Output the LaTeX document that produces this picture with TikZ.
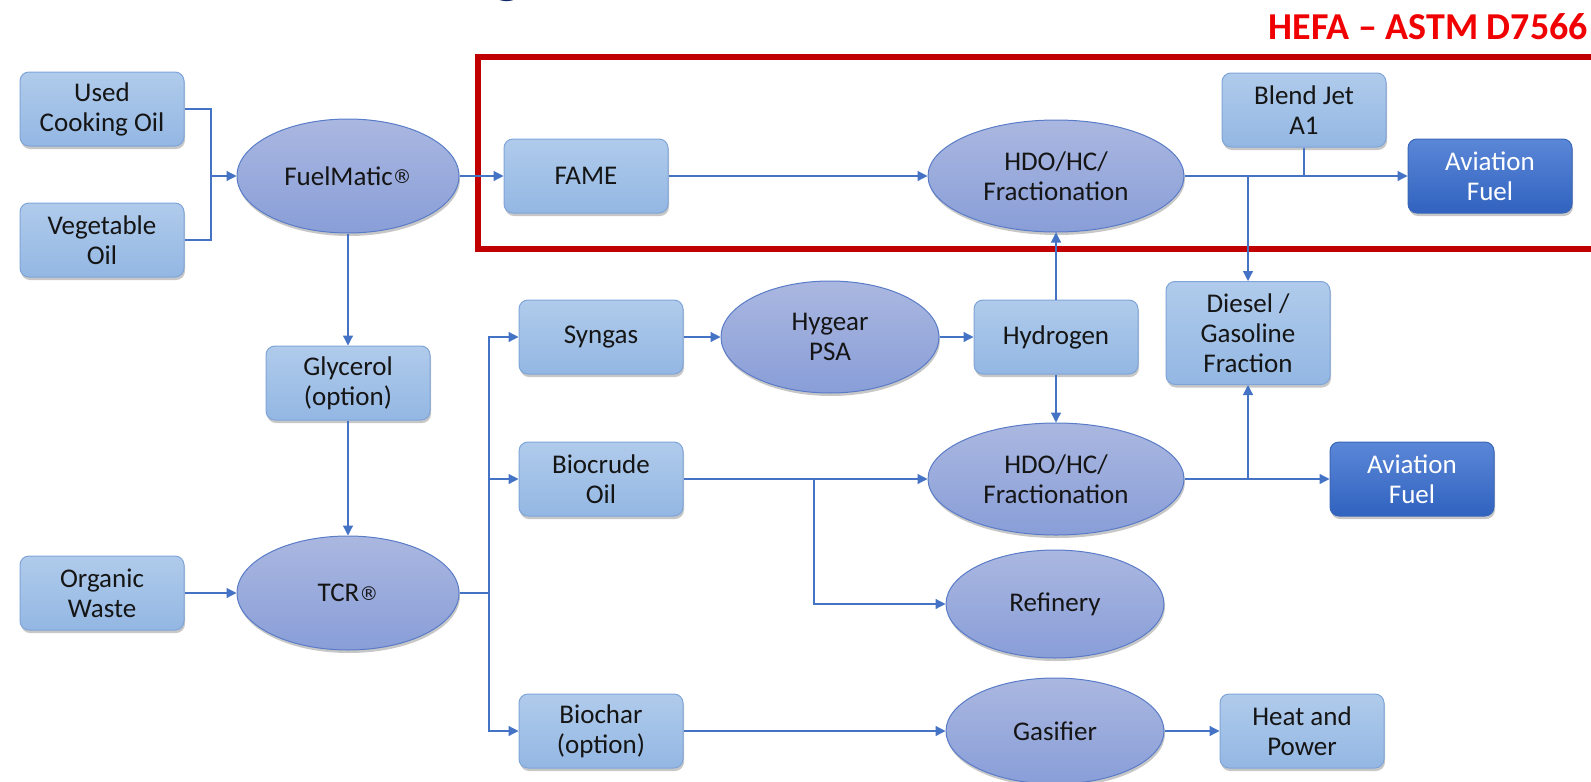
\documentclass[tikz,border=0pt]{standalone}
\usepackage{fontspec}
\setmainfont{Carlito}
\newfontfamily\symfont{DejaVu Sans}
\usetikzlibrary{shapes.geometric,shadows,arrows.meta}
\definecolor{boxtop}{HTML}{B0CBEB}
\definecolor{boxbot}{HTML}{93B7E3}
\definecolor{boxline}{HTML}{7FA5D8}
\definecolor{elltop}{HTML}{AAB7E0}
\definecolor{ellbot}{HTML}{899ED8}
\definecolor{ellline}{HTML}{5A7CC8}
\definecolor{darktop}{HTML}{5B87D7}
\definecolor{darkbot}{HTML}{3062BF}
\definecolor{darkline}{HTML}{3A66B8}
\definecolor{conn}{HTML}{4472C4}
\definecolor{hefared}{HTML}{C00000}
\definecolor{titlered}{HTML}{F00000}
\definecolor{navy}{HTML}{0F2A6A}
\definecolor{txt}{HTML}{151515}
\newcommand\nodefont{\fontsize{27}{30}\selectfont}
\newcommand\regmark{{\symfont\fontsize{19}{19}\selectfont\raisebox{1.5pt}{®}}}
\tikzset{
  shad/.style={drop shadow={shadow xshift=1pt, shadow yshift=-3pt, opacity=0.22, fill=black}},
  procbox/.style={rectangle, rounded corners=9pt, minimum width=164pt, minimum height=74pt,
    inner sep=0pt, top color=boxtop, bottom color=boxbot, draw=boxline, line width=1pt,
    align=center, font=\nodefont, text=txt, shad},
  darkbox/.style={procbox, top color=darktop, bottom color=darkbot, draw=darkline, text=white},
  proc/.style={ellipse, inner sep=0pt, top color=elltop, bottom color=ellbot, draw=ellline,
    line width=1pt, align=center, font=\nodefont, text=txt, shad},
  link/.style={draw=conn, line width=1.2pt},
  arr/.style={link, -{Triangle[length=10pt,width=10pt]}},
}
\begin{document}
\begin{tikzpicture}[x=1pt,y=-1pt]
\useasboundingbox (0,0) rectangle (1591,782);
% partial title glyph at top
\node[anchor=base, font=\bfseries\fontsize{60}{60}\selectfont, text=navy, inner sep=0pt] (cut) at (508,-9) {g};
% HEFA frame and title
\draw[hefared, line width=5.5pt] (478,57) rectangle (1610,249);
\node[anchor=base east, font=\bfseries\fontsize{38}{38}\selectfont, text=titlered, inner sep=0pt] (title) at (1588,39) {HEFA – ASTM D7566};
% nodes
\node[procbox] (uco) at (102,109) {Used\\Cooking Oil};
\node[procbox] (veg) at (102,240) {Vegetable\\Oil};
\node[proc, minimum width=222pt, minimum height=114pt] (fuel) at (348,176) {FuelMatic\regmark};
\node[procbox] (fame) at (586,176) {FAME};
\node[proc, minimum width=256pt, minimum height=112pt] (hdoa) at (1056,176) {HDO/HC/\\Fractionation};
\node[procbox] (blend) at (1304,110) {Blend Jet\\A1};
\node[darkbox] (ava) at (1490,176) {Aviation\\Fuel};
\node[procbox, minimum height=103pt] (dies) at (1248,333) {Diesel /\\Gasoline\\Fraction};
\node[procbox] (gly) at (348,383) {Glycerol\\(option)};
\node[procbox] (syn) at (601,337) {Syngas};
\node[proc, minimum width=218pt, minimum height=112pt] (hyg) at (830,337) {Hygear\\PSA};
\node[procbox] (hyd) at (1056,337) {Hydrogen};
\node[procbox] (bio) at (601,479) {Biocrude\\Oil};
\node[proc, minimum width=256pt, minimum height=112pt] (hdob) at (1056,479) {HDO/HC/\\Fractionation};
\node[darkbox] (avb) at (1412,479) {Aviation\\Fuel};
\node[procbox] (org) at (102,593) {Organic\\Waste};
\node[proc, minimum width=222pt, minimum height=114pt] (tcr) at (348,593) {TCR\regmark};
\node[proc, minimum width=218pt, minimum height=108pt] (ref) at (1055,604) {Refinery};
\node[procbox] (char) at (601,731) {Biochar\\(option)};
\node[proc, minimum width=218pt, minimum height=106pt] (gas) at (1055,731) {Gasifier};
\node[procbox] (heat) at (1302,731) {Heat and\\Power};
% junctions
\coordinate (j1) at (211,176);
\coordinate (j2) at (489,593);
\coordinate (j3) at (814,479);
\coordinate (j4) at (dies.north |- hdoa.east);
\coordinate (j5) at (dies.south |- hdob.east);
\coordinate (j6) at (blend.south |- hdoa.east);
% connectors
\draw[link] (uco.east) -| (j1) |- (veg.east);
\draw[arr] (j1) -- (fuel.west);
\draw[arr] (fuel.east) -- (fame.west);
\draw[arr] (fame.east) -- (hdoa.west);
\draw[arr] (hdoa.east) -- (ava.west);
\draw[arr] (j4) -- (dies.north);
\draw[link] (blend.south) -- (j6);
\draw[arr] (fuel.south) -- (gly.north);
\draw[arr] (gly.south) -- (tcr.north);
\draw[arr] (org.east) -- (tcr.west);
\draw[link] (tcr.east) -- (j2);
\draw[arr] (j2) |- (syn.west);
\draw[arr] (j2) |- (bio.west);
\draw[arr] (j2) |- (char.west);
\draw[arr] (syn.east) -- (hyg.west);
\draw[arr] (hyg.east) -- (hyd.west);
\draw[arr] (hyd.north) -- (hdoa.south);
\draw[arr] (hyd.south) -- (hdob.north);
\draw[arr] (bio.east) -- (hdob.west);
\draw[arr] (j3) |- (ref.west);
\draw[arr] (hdob.east) -- (avb.west);
\draw[arr] (j5) -- (dies.south);
\draw[arr] (char.east) -- (gas.west);
\draw[arr] (gas.east) -- (heat.west);
\end{tikzpicture}
\end{document}
